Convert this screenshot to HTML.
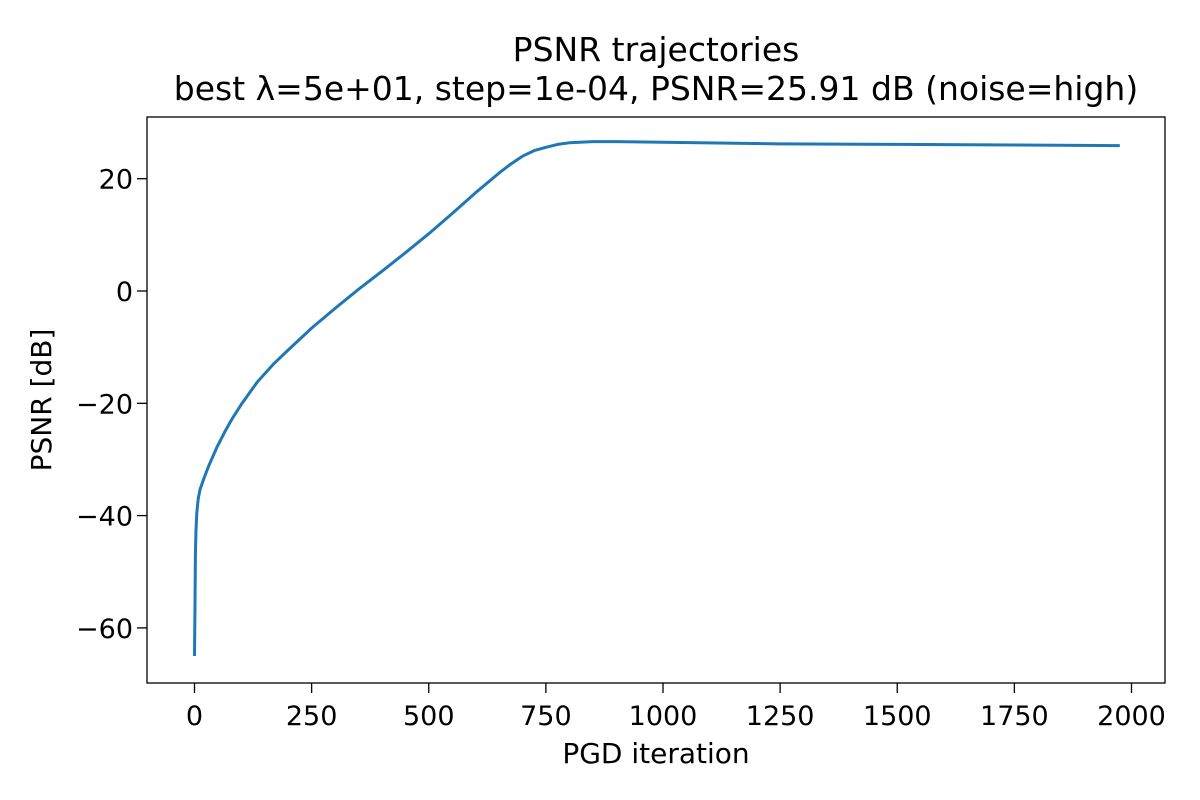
<!DOCTYPE html>
<html><head><meta charset="utf-8"><style>
body{margin:0;background:#fff;}
svg{display:block;font-family:"DejaVu Sans","Liberation Sans",sans-serif;}
</style></head><body>
<svg id="chart" width="1200" height="800">
<text x="656" y="61" font-size="33" text-anchor="middle">PSNR trajectories</text>
<text x="656" y="100" font-size="33" text-anchor="middle">best λ=5e+01, step=1e-04, PSNR=25.91 dB (noise=high)</text>
<g id="xt"></g><g id="yt"></g>
<path id="line" fill="none" stroke="#1f77b4" stroke-width="3" stroke-linejoin="round"/>
<rect x="147" y="117" width="1018" height="566" fill="none" stroke="#000" stroke-width="1.3"/>
<text x="656" y="763" font-size="28" text-anchor="middle">PGD iteration</text>
<text transform="translate(51,400) rotate(-90)" font-size="28" text-anchor="middle">PSNR [dB]</text>
</svg>
<script>
const iters=[0,1,2,3,5,8,12,20,30,48,65,80,100,134,170,200,250,300,350,400,450,500,550,600,650,675,700,725,750,775,800,850,900,1000,1250,1500,1750,1975];
const psnr=[-65,-56,-47,-43,-39.5,-37,-35.3,-33.4,-31.2,-27.8,-25,-22.8,-20.2,-16.2,-12.9,-10.5,-6.6,-3.1,0.3,3.5,6.8,10.2,13.8,17.5,21,22.6,24,25,25.6,26.1,26.4,26.6,26.6,26.5,26.2,26.1,26.0,25.9];
const xTicks=[0,250,500,750,1000,1250,1500,1750,2000];
const yTicks=[-60,-40,-20,0,20];
const X=v=>194.5+v*0.4685, Y=v=>291-v*5.615;
const ns="http://www.w3.org/2000/svg";
const xt=document.getElementById('xt'), yt=document.getElementById('yt');
xTicks.forEach(t=>{
 const l=document.createElementNS(ns,'line');
 
 
 l.setAttribute('x1',X(t));l.setAttribute('x2',X(t));l.setAttribute('y1',683);l.setAttribute('y2',693);l.setAttribute('stroke','#000');l.setAttribute('stroke-width','1.3');
 xt.appendChild(l);
 const s=document.createElementNS(ns,'text');
 
 
 s.setAttribute('x',X(t));s.setAttribute('y',725);s.setAttribute('font-size','27');s.setAttribute('text-anchor','middle');
 s.textContent=t;xt.appendChild(s);
});
yTicks.forEach(t=>{
 const l=document.createElementNS(ns,'line');
 
 
 l.setAttribute('x1',137);l.setAttribute('x2',147);l.setAttribute('y1',Y(t));l.setAttribute('y2',Y(t));l.setAttribute('stroke','#000');l.setAttribute('stroke-width','1.3');
 yt.appendChild(l);
 const s=document.createElementNS(ns,'text');
 
 
 s.setAttribute('x',133);s.setAttribute('y',Y(t)+10);s.setAttribute('font-size','27');s.setAttribute('text-anchor','end');
 s.textContent=(t<0?'\u2212'+(-t):t);yt.appendChild(s);
});
document.getElementById('line').setAttribute('d',iters.map((v,i)=>(i?'L':'M')+X(v).toFixed(1)+','+Y(psnr[i]).toFixed(1)).join(''));
</script>
</body></html>
